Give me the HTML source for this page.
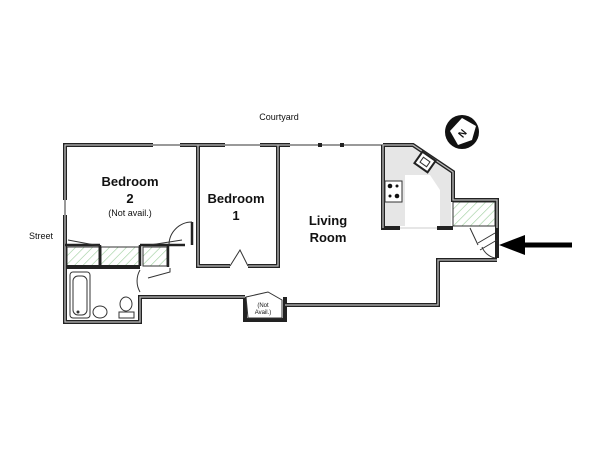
<!DOCTYPE html>
<html><head><style>
html,body{margin:0;padding:0;background:#fff;}
svg{display:block;}
text{font-family:"Liberation Sans",sans-serif;fill:#111;}
.w{fill:none;stroke:#222;stroke-width:4;stroke-linejoin:miter;}
.wi{fill:none;stroke:#bbb;stroke-width:1.3;}
.t{fill:none;stroke:#333;stroke-width:1;}
.h{fill:url(#hatch);stroke:#333;stroke-width:1;}
</style></head><body>
<svg width="600" height="450" viewBox="0 0 600 450" xmlns="http://www.w3.org/2000/svg">
<defs>
<pattern id="hatch" width="6" height="6" patternUnits="userSpaceOnUse" patternTransform="rotate(45)">
<rect width="6" height="6" fill="#fff"/><line x1="0" y1="0" x2="0" y2="6" stroke="#9c9" stroke-width="1.2"/>
</pattern>
</defs>
<polygon points="385,146 412,146 451,173 451,226 385,226" fill="#e6e6e6"/>
<polygon points="405,175 430,175 440,190 440,226 405,226" fill="#fff"/>
<rect x="67" y="247" width="32" height="19" class="h"/>
<rect x="101" y="247" width="38" height="19" class="h"/>
<rect x="143" y="247" width="24" height="19" class="h"/>
<rect x="453" y="202" width="42" height="24" class="h"/>
<line x1="153" y1="145" x2="383" y2="145" stroke="#333" stroke-width="1"/>
<g>
<path class="w" d="M65,200 V145 H153 M180,145 H225 M260,145 H290 M318,145 H322 M340,145 H344 M383,145 H413 L453,172 V200 H497 V228 M383,145 V228 H400 M437,228 H453 M497,228 V258 M497,260 H438 V305 H285 M65,215 V322 H140 V297 H245 M245,297 V320 H285 V297 M198,145 V266 H230 M248,266 H278 V145 M65,267 H140"/>
<path class="wi" d="M65,200 V145 H153 M180,145 H225 M260,145 H290 M383,145 H413 L453,172 V200 H497 V228 M383,145 V228 M497,260 H438 V305 H285 M65,215 V322 H140 V297 H245 M198,145 V266 H230 M248,266 H278 V145"/>
<path fill="none" stroke="#222" stroke-width="2.5" d="M65,245 H100 M140,245 H168 V267 M100,245 V266 M140,245 V266 M168,245 H185 M192,222 V245"/>
<line x1="65" y1="200" x2="65" y2="215" stroke="#333" stroke-width="1"/>
</g>
<path class="t" d="M192,222 A23,23 0 0 0 169,245"/>
<path class="t" d="M230,266 L240,250 L248,266" />
<path class="t" d="M140,270 A22,22 0 0 0 140,292"/>
<path class="t" d="M470,228 L478,245 M478,243 L495,233 M480,250 L497,240 M482,247 A18,18 0 0 0 495,258"/>
<path class="t" d="M100,246 L68,240 M150,245 L182,240 M170,268 L170,272 L148,278"/>
<polygon points="246,297 268,292 282,300 282,318 248,318" fill="#fff" stroke="#333"/>
<rect x="70" y="272" width="20" height="46" rx="3" class="t"/>
<rect x="73" y="276" width="14" height="39" rx="5" class="t"/>
<circle cx="78" cy="312" r="1.5" fill="#333"/>
<ellipse cx="100" cy="312" rx="7" ry="6" class="t"/>
<rect x="119" y="312" width="15" height="6" class="t"/>
<ellipse cx="126" cy="304" rx="6" ry="7" class="t"/>
<rect x="385" y="181" width="17" height="21" fill="#fff" stroke="#333"/>
<circle cx="390" cy="186" r="2.3" fill="#111"/><circle cx="397" cy="186" r="1.5" fill="#111"/>
<circle cx="390" cy="196" r="1.5" fill="#111"/><circle cx="397" cy="196" r="2.3" fill="#111"/>
<g transform="translate(425,162) rotate(35)"><rect x="-8" y="-7" width="16" height="14" fill="#fff" stroke="#222" stroke-width="2"/><rect x="-4" y="-3" width="8" height="6" fill="none" stroke="#333"/></g>
<line x1="400" y1="228" x2="437" y2="228" stroke="#ccc" stroke-width="1"/>
<circle cx="462" cy="132" r="17" fill="#111"/>
<polygon points="450,131 462,118 476,126 472,140 458,145" fill="#fff"/>
<text x="462" y="137" font-size="10" font-weight="bold" text-anchor="middle" transform="rotate(-50 462 133)">N</text>
<line x1="520" y1="245" x2="572" y2="245" stroke="#000" stroke-width="5"/>
<polygon points="499,245 525,235 525,255" fill="#000"/>
<text x="279" y="120" font-size="9" text-anchor="middle">Courtyard</text>
<text x="41" y="239" font-size="9" text-anchor="middle">Street</text>
<text x="130" y="186" font-size="13" font-weight="bold" text-anchor="middle">Bedroom</text>
<text x="130" y="203" font-size="13" font-weight="bold" text-anchor="middle">2</text>
<text x="130" y="216" font-size="9" text-anchor="middle">(Not avail.)</text>
<text x="236" y="203" font-size="13" font-weight="bold" text-anchor="middle">Bedroom</text>
<text x="236" y="220" font-size="13" font-weight="bold" text-anchor="middle">1</text>
<text x="328" y="225" font-size="13" font-weight="bold" text-anchor="middle">Living</text>
<text x="328" y="242" font-size="13" font-weight="bold" text-anchor="middle">Room</text>
<text x="263" y="307" font-size="6" text-anchor="middle">(Not</text>
<text x="263" y="314" font-size="6" text-anchor="middle">Avail.)</text>
</svg>
</body></html>
